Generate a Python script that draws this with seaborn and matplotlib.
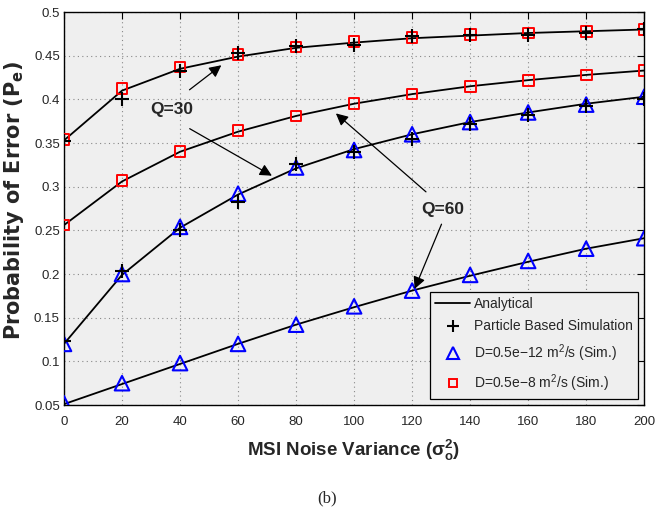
import numpy as np
import pandas as pd
import matplotlib
matplotlib.use('Agg')
import matplotlib.pyplot as plt
from matplotlib.lines import Line2D
import seaborn as sns

# noise variance (x axis)
variance = [0, 20, 40, 60, 80, 100, 120, 140, 160, 180, 200]

# analytical curves
ana_q30_d8 = [0.353, 0.410, 0.435, 0.449, 0.459, 0.465, 0.470, 0.473, 0.476, 0.478, 0.480]
ana_q60_d8 = [0.256, 0.306, 0.340, 0.363, 0.381, 0.395, 0.406, 0.415, 0.422, 0.428, 0.433]
ana_q30_d12 = [0.120, 0.199, 0.253, 0.291, 0.321, 0.343, 0.360, 0.374, 0.385, 0.395, 0.403]
ana_q60_d12 = [0.051, 0.074, 0.097, 0.120, 0.142, 0.162, 0.181, 0.198, 0.214, 0.229, 0.241]

# particle based simulation (Q=30 curves)
pbs_q30_d8 = [0.352, 0.400, 0.432, 0.453, 0.461, 0.462, 0.472, 0.474, 0.474, 0.476, 0.481]
pbs_q30_d12 = [0.123, 0.203, 0.250, 0.283, 0.326, 0.340, 0.355, 0.372, 0.382, 0.392, 0.400]

# D=0.5e-8 simulation (squares)
sq_q30 = [0.354, 0.412, 0.437, 0.451, 0.460, 0.466, 0.471, 0.474, 0.476, 0.478, 0.480]
sq_q60 = [0.256, 0.307, 0.340, 0.364, 0.381, 0.395, 0.406, 0.415, 0.422, 0.428, 0.433]

# D=0.5e-12 simulation (triangles)
tri_q30 = [0.120, 0.200, 0.254, 0.292, 0.322, 0.342, 0.360, 0.374, 0.385, 0.394, 0.403]
tri_q60 = [0.052, 0.075, 0.098, 0.120, 0.142, 0.163, 0.181, 0.199, 0.215, 0.229, 0.241]

sns.set_style('whitegrid')
plt.rcParams['font.family'] = ['Liberation Sans', 'DejaVu Sans']
plt.rcParams['mathtext.fontset'] = 'custom'
plt.rcParams['mathtext.rm'] = 'Liberation Sans'
plt.rcParams['mathtext.it'] = 'Liberation Sans'
plt.rcParams['mathtext.bf'] = 'Liberation Sans:bold'

fig = plt.figure(figsize=(6.55, 5.23), dpi=100)
ax = fig.add_axes([0.0977, 0.2256, 0.8858, 0.7514])
ax.set_facecolor('#efefef')

ana = pd.DataFrame({
    'x': variance * 4,
    'y': ana_q30_d8 + ana_q60_d8 + ana_q30_d12 + ana_q60_d12,
    'curve': ['a'] * 11 + ['b'] * 11 + ['c'] * 11 + ['d'] * 11,
})
sns.lineplot(data=ana, x='x', y='y', units='curve', estimator=None,
             color='black', lw=1.3, ax=ax, legend=False)

sq = pd.DataFrame({'x': variance * 2, 'y': sq_q30 + sq_q60})
tri = pd.DataFrame({'x': variance * 2, 'y': tri_q30 + tri_q60})
pbs = pd.DataFrame({'x': variance * 2, 'y': pbs_q30_d8 + pbs_q30_d12})

sns.scatterplot(data=sq, x='x', y='y', marker='s', s=60, facecolors='none',
                edgecolor='red', linewidth=1.4, ax=ax, zorder=3, legend=False)
sns.scatterplot(data=tri, x='x', y='y', marker='^', s=110, facecolors='none',
                edgecolor='blue', linewidth=1.5, ax=ax, zorder=3, legend=False)
ax.scatter(pbs['x'], pbs['y'], marker='+', s=90, color='black', linewidths=1.5, zorder=4)

ax.set_xlim(0, 200)
ax.set_ylim(0.05, 0.5)
ax.set_xticks(variance)
yt = [0.05, 0.1, 0.15, 0.2, 0.25, 0.3, 0.35, 0.4, 0.45, 0.5]
ax.set_yticks(yt)
ax.set_yticklabels([f'{v:g}' for v in yt])
ax.tick_params(direction='in', length=5, labelsize=9.5, top=True, right=True,
               color='black', width=0.8)
ax.tick_params(axis='x', pad=8)
ax.tick_params(axis='y', pad=3)
ax.grid(True, color='#888888', linestyle=(0, (1, 3)), linewidth=0.8)
for s in ax.spines.values():
    s.set_color('black')
    s.set_linewidth(1.0)

ax.set_xlabel(r'MSI Noise Variance ($\mathbf{\sigma_o^2}$)', fontsize=13.5,
              fontweight='bold', labelpad=7)
ax.set_ylabel(r'Probability of Error (P$_{\mathregular{e}}$)', fontsize=15,
              fontweight='bold', family=['DejaVu Sans'])
ax.yaxis.set_label_coords(-0.066, 0.52)

# annotations
ax.text(37, 0.388, 'Q=30', fontsize=12.5, fontweight='bold', ha='center', va='center')
ax.annotate('', xy=(55, 0.441), xytext=(42.5, 0.409),
            arrowprops=dict(arrowstyle='-|>', color='black', lw=0.9, mutation_scale=18))
ax.annotate('', xy=(72.5, 0.311), xytext=(42.5, 0.368),
            arrowprops=dict(arrowstyle='-|>', color='black', lw=0.9, mutation_scale=18))
ax.text(130.5, 0.2735, 'Q=60', fontsize=12.5, fontweight='bold', ha='center', va='center')
ax.annotate('', xy=(93, 0.386), xytext=(125.5, 0.292),
            arrowprops=dict(arrowstyle='-|>', color='black', lw=0.9, mutation_scale=18))
ax.annotate('', xy=(120.5, 0.180), xytext=(130.5, 0.260),
            arrowprops=dict(arrowstyle='-|>', color='black', lw=0.9, mutation_scale=18))

handles = [
    Line2D([], [], color='black', lw=1.3),
    Line2D([], [], color='black', marker='+', ls='none', markersize=9, mew=1.5),
    Line2D([], [], color='blue', marker='^', ls='none', markersize=9, mfc='none', mew=1.5),
    Line2D([], [], color='red', marker='s', ls='none', markersize=6, mfc='none', mew=1.4),
]
labels = ['Analytical', 'Particle Based Simulation',
          'D=0.5e\u221212 m$^2$/s (Sim.)', 'D=0.5e\u22128 m$^2$/s (Sim.)']
leg = ax.legend(handles, labels, loc='lower right', fontsize=10, frameon=True,
                fancybox=False, edgecolor='black', facecolor='#efefef',
                framealpha=1, borderaxespad=0.45, handlelength=2.5,
                labelspacing=0.62, borderpad=0.35, handletextpad=0.3)
leg.get_frame().set_linewidth(0.9)

fig.text(0.5, 0.047, '(b)', fontsize=12, ha='center', va='center',
         family=['Liberation Serif', 'DejaVu Serif'])

fig.savefig('out.png', dpi=100)
